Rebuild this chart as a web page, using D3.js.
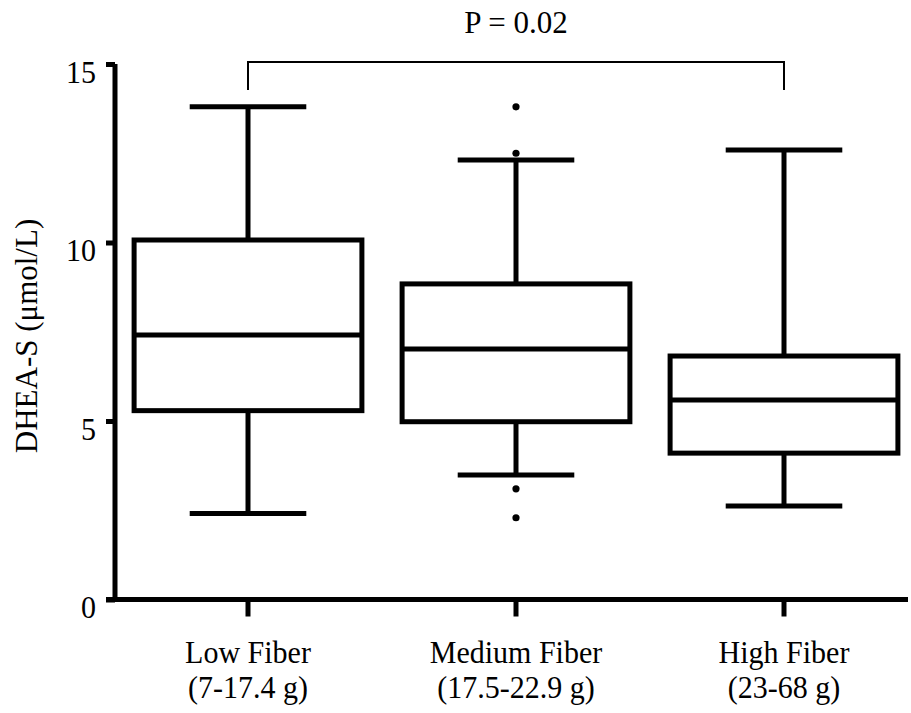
<!DOCTYPE html>
<html><head><meta charset="utf-8">
<script src="https://cdn.jsdelivr.net/npm/d3@7"></script>
<style>
body{margin:0;background:#fff;}
svg text{font-family:"Liberation Serif", serif !important;}
</style>
</head><body>
<svg id="chart" width="911" height="713"></svg>
<script>
const categories = ["Low Fiber", "Medium Fiber", "High Fiber"];
const ranges = ["(7-17.4 g)", "(17.5-22.9 g)", "(23-68 g)"];
const whiskerLow = [2.41, 3.49, 2.62];
const q1 = [5.29, 4.98, 4.10];
const median = [7.41, 7.02, 5.59];
const q3 = [10.07, 8.84, 6.82];
const whiskerHigh = [13.8, 12.31, 12.59];
const outliers = [[], [13.8, 12.5, 3.1, 2.29], []];
const yTicks = [0, 5, 10, 15];
const pText = "P = 0.02";

const FONT = "Liberation Serif";
const svg = d3.select("#chart").attr("font-family", FONT);
const y = d3.scaleLinear().domain([0, 15]).range([599.5, 64]);
const x = d3.scaleBand().domain(categories).range([114, 918]).padding(0);
const bw = x.bandwidth() * 0.85;
const cw = x.bandwidth() * 0.435;
const cx = c => x(c) + x.bandwidth() / 2;

function label(sel, tx, ty, sy, size, txt, rot) {
  return sel.append("text")
    .attr("transform", `translate(${tx},${ty})` + (rot ? " rotate(-90)" : "") + ` scale(1,${sy})`)
    .attr("text-anchor", "middle").attr("font-size", size)
    .attr("font-family", FONT).style("font-family", FONT).text(txt);
}

// axes
const yAxis = svg.append("g").attr("transform", "translate(115,0)")
  .call(d3.axisLeft(y).tickValues(yTicks).tickSize(9).tickSizeOuter(0).tickFormat(""));
yAxis.attr("font-family", null);
yAxis.select(".domain").attr("stroke-width", 5).attr("d", `M0,${y(15)}V${y(0)+2.5}`);
yAxis.selectAll(".tick line").attr("stroke-width", 5);
yAxis.selectAll(".tick").each(function(d) {
  d3.select(this).append("text")
    .attr("transform", "translate(-19,18) scale(1,1.08)")
    .attr("text-anchor", "end").attr("font-size", 30)
    .attr("font-family", FONT).style("font-family", FONT).attr("fill", "#000").text(d);
});

const xAxis = svg.append("g").attr("transform", "translate(0,599.5)")
  .call(d3.axisBottom(x).tickSize(17).tickSizeOuter(0).tickFormat(""));
xAxis.attr("font-family", null);
xAxis.select(".domain").attr("stroke-width", 5).attr("d", "M106,0H908");
xAxis.selectAll(".tick line").attr("stroke-width", 5);

categories.forEach((c, i) => {
  label(svg, cx(c), 663, 1.08, 30, c);
  label(svg, cx(c), 698, 1.08, 30, ranges[i]);
});

label(svg, 37, 336, 1, 31, "DHEA-S (μmol/L)", true);

// boxes
const g = svg.append("g").attr("stroke", "#000").attr("fill", "none").attr("stroke-width", 5);
categories.forEach((c, i) => {
  const m = cx(c);
  g.append("line").attr("x1", m).attr("x2", m).attr("y1", y(whiskerHigh[i])).attr("y2", y(q3[i]));
  g.append("line").attr("x1", m).attr("x2", m).attr("y1", y(q1[i])).attr("y2", y(whiskerLow[i]));
  g.append("line").attr("x1", m - cw/2).attr("x2", m + cw/2).attr("y1", y(whiskerHigh[i])).attr("y2", y(whiskerHigh[i]));
  g.append("line").attr("x1", m - cw/2).attr("x2", m + cw/2).attr("y1", y(whiskerLow[i])).attr("y2", y(whiskerLow[i]));
  g.append("rect").attr("x", m - bw/2).attr("width", bw).attr("y", y(q3[i])).attr("height", y(q1[i]) - y(q3[i])).attr("fill", "#fff");
  g.append("line").attr("x1", m - bw/2).attr("x2", m + bw/2).attr("y1", y(median[i])).attr("y2", y(median[i]));
  outliers[i].forEach(v => {
    svg.append("circle").attr("cx", m).attr("cy", y(v)).attr("r", 3.6).attr("fill", "#000");
  });
});

// significance bracket
const bx1 = cx(categories[0]), bx2 = cx(categories[2]);
svg.append("path").attr("d", `M${bx1},90V62H${bx2}V90`).attr("fill", "none").attr("stroke", "#000").attr("stroke-width", 2);
label(svg, (bx1 + bx2) / 2, 33, 1.05, 31, pText);
</script>
</body></html>
